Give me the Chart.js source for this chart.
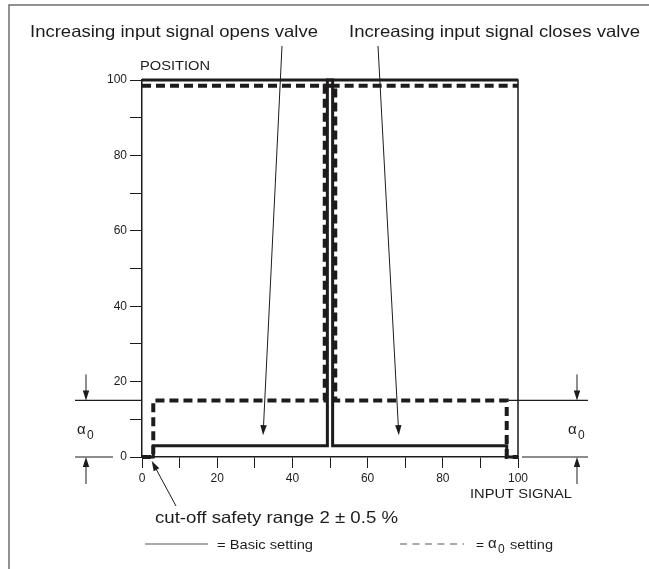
<!DOCTYPE html>
<html>
<head>
<meta charset="utf-8">
<script src="https://cdn.jsdelivr.net/npm/chart.js"></script>
<style>
  html, body { margin: 0; padding: 0; background: #fff; }
  #wrap { width: 649px; height: 569px; }
</style>
</head>
<body>
<div id="wrap"><canvas id="valveChart" width="649" height="569"></canvas></div>

<script>
// position (%) against input signal (%)
const basicOpensX  = [0, 3, 3, 49.3, 49.3, 100];
const basicOpensY  = [0, 0, 3, 3, 100, 100];
const basicClosesX = [0, 50.7, 50.7, 97, 97, 100];
const basicClosesY = [100, 100, 3, 3, 0, 0];

const alphaOpensX  = [0, 3, 3, 48.6, 48.6, 100];
const alphaOpensY  = [0, 0, 15, 15, 98.5, 98.5];
const alphaClosesX = [0, 51.4, 51.4, 97, 97, 100];
const alphaClosesY = [98.5, 98.5, 15, 15, 0, 0];

const alphaLevel = 15;
const xTickLabels = [0, 20, 40, 60, 80, 100];
const yTickLabels = [0, 20, 40, 60, 80, 100];

const ink = '#1e1b1c';
const fontFamily = '"Liberation Sans", Arial, Helvetica, sans-serif';

const toPoints = (xs, ys) => xs.map((x, i) => ({ x: x, y: ys[i] }));

function fitText(ctx, text, x, y, width, size) {
  ctx.save();
  ctx.font = size + 'px ' + fontFamily;
  const w = ctx.measureText(text).width;
  ctx.translate(x, y);
  ctx.scale(width / w, 1);
  ctx.fillText(text, 0, 0);
  ctx.restore();
}

function arrow(ctx, x1, y1, x2, y2) {
  const a = Math.atan2(y2 - y1, x2 - x1);
  const len = 10, half = 3.2;
  ctx.beginPath();
  ctx.moveTo(x1, y1);
  ctx.lineTo(x2 - Math.cos(a) * len * 0.6, y2 - Math.sin(a) * len * 0.6);
  ctx.stroke();
  ctx.beginPath();
  ctx.moveTo(x2, y2);
  ctx.lineTo(x2 - Math.cos(a) * len - Math.sin(a) * half, y2 - Math.sin(a) * len + Math.cos(a) * half);
  ctx.lineTo(x2 - Math.cos(a) * len + Math.sin(a) * half, y2 - Math.sin(a) * len - Math.cos(a) * half);
  ctx.closePath();
  ctx.fill();
}

function alphaZero(ctx, x, y) {
  ctx.font = '15px ' + fontFamily;
  ctx.fillText('\u03b1', x, y);
  ctx.font = '12px ' + fontFamily;
  ctx.fillText('0', x + 10, y + 5);
}

const decorations = {
  id: 'decorations',
  beforeDatasetsDraw(chart) {
    const { ctx, chartArea: a } = chart;
    ctx.save();
    ctx.strokeStyle = ink;
    ctx.lineWidth = 1.5;
    ctx.beginPath();
    ctx.moveTo(a.left, a.top);
    ctx.lineTo(a.right, a.top);
    ctx.lineTo(a.right, a.bottom);
    ctx.stroke();
    ctx.restore();
  },
  afterDraw(chart) {
    const { ctx } = chart;
    const xs = chart.scales.x, ys = chart.scales.y;
    const yA = ys.getPixelForValue(alphaLevel);
    const y0 = ys.getPixelForValue(0);
    const left = xs.getPixelForValue(0), right = xs.getPixelForValue(100);

    ctx.save();
    // outer frame (left and top edges only)
    ctx.strokeStyle = '#6d6d6d';
    ctx.lineWidth = 1.5;
    ctx.beginPath();
    ctx.moveTo(9, 569);
    ctx.lineTo(9, 5);
    ctx.lineTo(649, 5);
    ctx.stroke();

    ctx.fillStyle = ink;
    ctx.strokeStyle = ink;
    ctx.textBaseline = 'alphabetic';

    // headings
    fitText(ctx, 'Increasing input signal opens valve', 30, 37, 288, 16.5);
    fitText(ctx, 'Increasing input signal closes valve', 349, 37, 291, 16.5);
    fitText(ctx, 'POSITION', 140, 70, 70, 13.5);
    fitText(ctx, 'INPUT SIGNAL', 470, 498, 102, 13.5);
    fitText(ctx, 'cut-off safety range 2 \u00b1 0.5 %', 155, 523, 243, 16.5);

    // alpha0 dimension lines
    ctx.lineWidth = 1.2;
    ctx.beginPath();
    ctx.moveTo(75, yA); ctx.lineTo(left, yA);
    ctx.moveTo(75, y0); ctx.lineTo(113, y0);
    ctx.moveTo(xs.getPixelForValue(97) + 2, yA); ctx.lineTo(588, yA);
    ctx.moveTo(right + 4, y0); ctx.lineTo(588, y0);
    ctx.stroke();
    ctx.lineWidth = 1;
    arrow(ctx, 86, yA - 26, 86, yA);
    arrow(ctx, 86, y0 + 27, 86, y0);
    arrow(ctx, 577, yA - 26, 577, yA);
    arrow(ctx, 577, y0 + 27, 577, y0);
    alphaZero(ctx, 77, (yA + y0) / 2 + 5);
    alphaZero(ctx, 568, (yA + y0) / 2 + 5);

    // call-out arrows
    arrow(ctx, 282, 46, xs.getPixelForValue(32.2), ys.getPixelForValue(5.8));
    arrow(ctx, 378, 46, xs.getPixelForValue(68.3), ys.getPixelForValue(5.8));
    arrow(ctx, 176, 506, xs.getPixelForValue(2.6), y0 + 4);

    // key
    ctx.strokeStyle = '#555';
    ctx.lineWidth = 1.2;
    ctx.beginPath();
    ctx.moveTo(145, 544); ctx.lineTo(208, 544);
    ctx.stroke();
    ctx.setLineDash([7, 5.5]);
    ctx.beginPath();
    ctx.moveTo(400, 544); ctx.lineTo(464, 544);
    ctx.stroke();
    ctx.setLineDash([]);
    fitText(ctx, '= Basic setting', 217, 549, 96, 13.5);
    fitText(ctx, '=', 476, 549, 8, 13.5);
    alphaZero(ctx, 488, 548);
    fitText(ctx, 'setting', 510, 549, 43, 13.5);
    ctx.restore();
  }
};

const solid = { showLine: true, borderColor: ink, borderWidth: 3, pointRadius: 0, clip: false, order: 1, fill: false };
const dashed = { showLine: true, borderColor: ink, borderWidth: 4, borderDash: [9, 5], pointRadius: 0, clip: false, order: 2, fill: false };

new Chart(document.getElementById('valveChart'), {
  type: 'scatter',
  data: {
    datasets: [
      Object.assign({ label: 'Basic setting', data: toPoints(basicOpensX, basicOpensY) }, solid),
      Object.assign({ label: 'Basic setting ', data: toPoints(basicClosesX, basicClosesY) }, solid),
      Object.assign({ label: '\u03b10 setting', data: toPoints(alphaOpensX, alphaOpensY) }, dashed),
      Object.assign({ label: '\u03b10 setting ', data: toPoints(alphaClosesX, alphaClosesY) }, dashed)
    ]
  },
  options: {
    responsive: false,
    animation: false,
    layout: { padding: { left: 100, top: 80, right: 131, bottom: 82 } },
    plugins: { legend: { display: false }, tooltip: { enabled: false } },
    scales: {
      x: {
        type: 'linear', min: 0, max: 100,
        ticks: {
          stepSize: 10, autoSkip: false, maxRotation: 0, padding: 3, color: ink,
          font: { family: fontFamily, size: 12 },
          callback: v => xTickLabels.includes(v) ? String(v) : ''
        },
        grid: { drawOnChartArea: false, tickLength: 11, color: ink, lineWidth: 1 },
        border: { color: ink, width: 1.5 },
        afterFit: s => { s.height = 30; }
      },
      y: {
        type: 'linear', min: 0, max: 100,
        ticks: {
          stepSize: 10, autoSkip: false, padding: 3, color: ink,
          font: { family: fontFamily, size: 12 },
          callback: v => yTickLabels.includes(v) ? String(v) : ''
        },
        grid: { drawOnChartArea: false, tickLength: 12, color: ink, lineWidth: 1 },
        border: { color: ink, width: 1.5 },
        afterFit: s => { s.width = 42; }
      }
    }
  },
  plugins: [decorations]
});
</script>
</body>
</html>
